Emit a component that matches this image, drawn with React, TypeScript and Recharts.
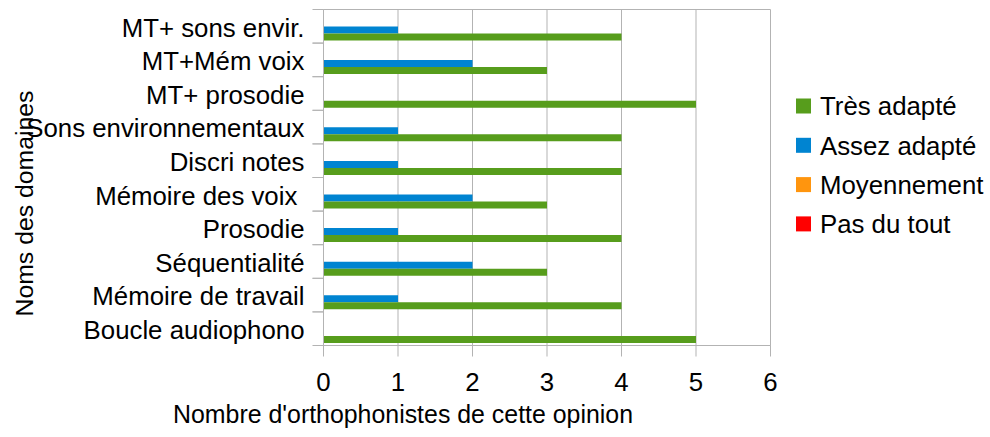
import { Bar, BarChart, CartesianGrid, XAxis, YAxis } from 'recharts';

// domains, top to bottom as in the picture
const domaines = [
  'MT+ sons envir.',
  'MT+Mém voix',
  'MT+ prosodie',
  'Sons environnementaux',
  'Discri notes',
  'Mémoire des voix ',
  'Prosodie',
  'Séquentialité',
  'Mémoire de travail',
  'Boucle audiophono',
];
const tresAdapte = [4, 3, 5, 4, 4, 3, 4, 3, 4, 5];
const assezAdapte = [1, 2, 0, 1, 1, 2, 1, 2, 1, 0];
const moyennement = [0, 0, 0, 0, 0, 0, 0, 0, 0, 0];
const pasDuTout = [0, 0, 0, 0, 0, 0, 0, 0, 0, 0];
const xTicks = [0, 1, 2, 3, 4, 5, 6];

const series = [
  { key: 'tres', name: 'Très adapté', color: '#579d1c', values: tresAdapte },
  { key: 'assez', name: 'Assez adapté', color: '#0084d1', values: assezAdapte },
  { key: 'moyen', name: 'Moyennement', color: '#ff950e', values: moyennement },
  { key: 'pas', name: 'Pas du tout', color: '#ff0000', values: pasDuTout },
];

const data = domaines.map((nom, i) => {
  const row: Record<string, string | number> = { nom };
  series.forEach((s) => {
    row[s.key] = s.values[i];
  });
  return row;
});

const FONT = '"Liberation Sans", Arial, sans-serif';
const GRID = '#b3b3b3';
const TICK_SIZE = 11;
const TICK_MARGIN = 8;
const LABEL_SIZE = 25.8;

// category label + tick marks on the band boundaries (LibreOffice style)
function DomaineTick({ x, y, payload }: any) {
  const half = payload?.offset ?? 0;
  const x0 = x + TICK_MARGIN;
  return (
    <g>
      <line x1={x0} x2={x0 + TICK_SIZE} y1={y - half} y2={y - half} stroke={GRID} />
      <line x1={x0} x2={x0 + TICK_SIZE} y1={y + half} y2={y + half} stroke={GRID} />
      <text
        x={x}
        y={y}
        dy="0.4em"
        textAnchor="end"
        fontSize={LABEL_SIZE}
        fill="#000"
        fontFamily={FONT}
        style={{ whiteSpace: 'pre' }}
      >
        {payload.value}
      </text>
    </g>
  );
}

export default function App() {
  return (
    <div style={{ position: 'absolute', left: 0, top: 0, width: 990, height: 437, background: '#fff' }}>
      <BarChart
        width={990}
        height={437}
        data={data}
        layout="vertical"
        margin={{ top: 9.5, right: 219.5, bottom: 0, left: 0 }}
        barGap={0}
        barSize={7}
      >
        <CartesianGrid
          stroke={GRID}
          horizontalCoordinatesGenerator={({ offset }: any) => [offset.top, offset.top + offset.height]}
        />
        <XAxis
          type="number"
          domain={[0, 6]}
          ticks={xTicks}
          height={91.5}
          stroke={GRID}
          tickSize={TICK_SIZE}
          tickMargin={16}
          tick={{ fill: '#000', fontSize: LABEL_SIZE, fontFamily: FONT }}
        />
        <YAxis
          type="category"
          dataKey="nom"
          width={323.5}
          stroke={GRID}
          tickLine={false}
          tickSize={TICK_SIZE}
          tickMargin={TICK_MARGIN}
          interval={0}
          tick={<DomaineTick />}
        />
        {[...series].reverse().map((s) => (
          <Bar key={s.key} dataKey={s.key} name={s.name} fill={s.color} isAnimationActive={false} />
        ))}
      </BarChart>
      <svg
        width={990}
        height={437}
        style={{ position: 'absolute', left: 0, top: 0, pointerEvents: 'none' }}
        fontFamily={FONT}
      >
        <text x={173} y={423} fontSize={24.9} fill="#000">
          Nombre d'orthophonistes de cette opinion
        </text>
        <text
          x={24.6}
          y={203.5}
          dy="0.35em"
          fontSize={24.8}
          fill="#000"
          textAnchor="middle"
          transform="rotate(-90, 24.6, 203.5)"
        >
          Noms des domaines
        </text>
        {series.map((s, i) => (
          <g key={s.key}>
            <rect x={796} y={98.5 + i * 39.3} width={15} height={15} fill={s.color} />
            <text x={820} y={106 + i * 39.3} dy="0.36em" fontSize={LABEL_SIZE} fill="#000">
              {s.name}
            </text>
          </g>
        ))}
      </svg>
    </div>
  );
}
